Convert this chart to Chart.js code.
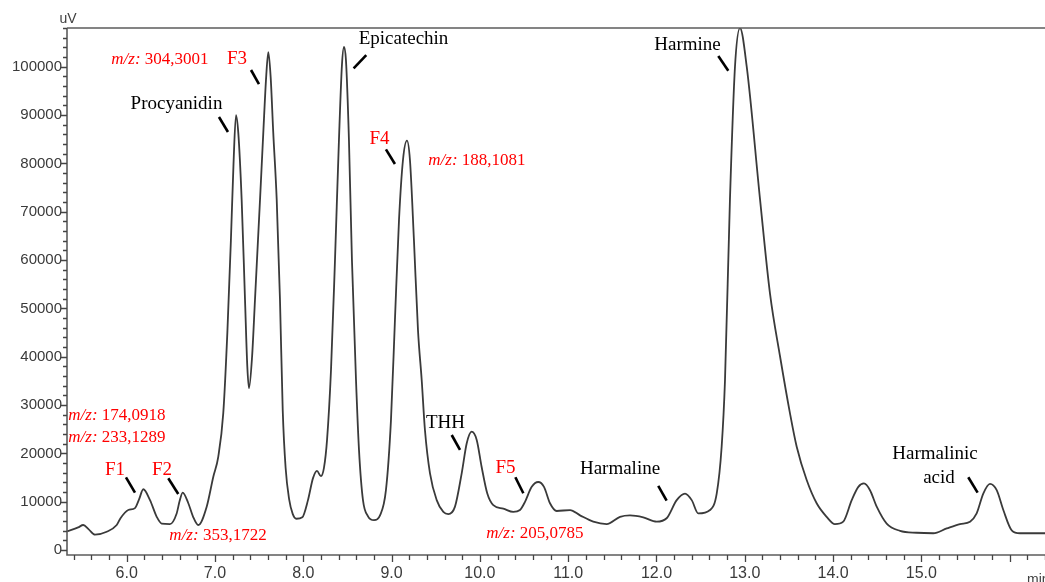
<!doctype html>
<html>
<head>
	<title>Chromatogram</title>
	<meta charset="UTF-8">
	<script src="https://cdn.jsdelivr.net/npm/chart.js@4/dist/chart.umd.min.js"></script>
	<style>
		body { margin: 0; background: #fff; }
		#holder { width: 1045px; height: 582px; }
	</style>
</head>
<body>
<div id="holder"><canvas id="chrom" width="1045" height="582"></canvas></div>
<script>
	// retention time (min)
	var retentionTime = [
		5.324, 5.45, 5.508, 5.57, 5.641, 5.774, 5.887, 5.93, 6.018, 6.094,
		6.14, 6.188, 6.264, 6.340, 6.396, 6.490, 6.566, 6.60, 6.634, 6.698,
		6.75, 6.811, 6.906, 6.981, 7.037, 7.094, 7.14, 7.18, 7.21, 7.238,
		7.264, 7.302, 7.340, 7.366, 7.385, 7.42, 7.453, 7.510, 7.547, 7.58,
		7.604, 7.63, 7.660, 7.699, 7.736, 7.767, 7.80, 7.84, 7.88, 7.921,
		7.989, 8.053, 8.110, 8.155, 8.200, 8.234, 8.269, 8.314, 8.359, 8.404,
		8.438, 8.461, 8.483, 8.517, 8.551, 8.597, 8.631, 8.676, 8.733, 8.801,
		8.869, 8.936, 8.993, 9.038, 9.084, 9.129, 9.174, 9.208, 9.253, 9.299,
		9.341, 9.378, 9.435, 9.511, 9.586, 9.642, 9.718, 9.794, 9.851, 9.907,
		9.964, 10.020, 10.084, 10.152, 10.265, 10.378, 10.454, 10.511, 10.587, 10.661,
		10.726, 10.794, 10.870, 11.021, 11.134, 11.284, 11.436, 11.587, 11.700, 11.850,
		12.002, 12.115, 12.229, 12.323, 12.399, 12.473, 12.606, 12.682, 12.738, 12.776,
		12.832, 12.889, 12.946, 13.022, 13.173, 13.286, 13.40, 13.512, 13.588, 13.701,
		13.814, 13.927, 14.021, 14.115, 14.211, 14.286, 14.350, 14.418, 14.494, 14.607,
		14.758, 14.947, 15.135, 15.287, 15.437, 15.551, 15.626, 15.701, 15.777, 15.853,
		15.928, 16.023, 16.117, 16.40
	];

	// detector signal (uV)
	var signalUV = [
		3900, 4700, 5200, 4300, 3200, 3800, 5200, 6600, 8300, 8700,
		10500, 12600, 10350, 6900, 5500, 5400, 7600, 10200, 11900, 9700,
		7000, 5200, 9000, 15200, 19300, 28400, 45000, 64000, 80000, 90000,
		86300, 72500, 51800, 38000, 33500, 40000, 51800, 72500, 86300, 98000,
		103000, 98000, 86300, 72500, 51800, 29000, 17000, 10500, 7500, 6500,
		6800, 10350, 14900, 16400, 15300, 17000, 22800, 37300, 60000, 84900,
		100400, 104100, 101400, 84900, 60000, 35200, 20700, 10350, 7000, 6200,
		7200, 12400, 26900, 47600, 68300, 80700, 84700, 80700, 64200, 45500,
		35200, 24800, 15900, 10350, 7900, 7450, 9000, 15900, 22100, 24500,
		22800, 17200, 11700, 9300, 8600, 7900, 8300, 10000, 13100, 14100,
		13100, 9700, 8100, 8300, 7200, 5900, 5400, 6900, 7200, 6800,
		5900, 6600, 10350, 11700, 10350, 7600, 8300, 11700, 21400, 35200,
		72500, 100000, 108000, 100000, 72500, 53000, 40000, 28300, 21400, 14500,
		9700, 6900, 5400, 5900, 10350, 13100, 13800, 12400, 9000, 5500,
		4000, 3600, 3500, 4500, 5400, 5900, 7600, 11700, 13700, 12400,
		8300, 4100, 3500, 3500
	];

	var xTicks = [6, 7, 8, 9, 10, 11, 12, 13, 14, 15, 16];
	var yTicks = [0, 10000, 20000, 30000, 40000, 50000, 60000, 70000, 80000, 90000, 100000];

	// peak labels in axis units (min, uV); lead = short pointer line
	var peakNotes = [
		{ text: 'm/z: 304,3001', t: 6.377, v: 101580, red: true, small: true },
		{ text: 'F3', t: 7.249, v: 101580, red: true, lead: [7.408, 99310, 7.498, 96410] },
		{ text: 'Procyanidin', t: 6.564, v: 92280, lead: [7.045, 89590, 7.147, 86490] },
		{ text: 'Epicatechin', t: 9.135, v: 105720, lead: [8.713, 102410, 8.570, 99660] },
		{ text: 'F4', t: 8.863, v: 85040, red: true, lead: [8.936, 82910, 9.038, 79870] },
		{ text: 'm/z: 188,1081', t: 9.967, v: 80690, red: true, small: true },
		{ text: 'Harmine', t: 12.351, v: 104480, lead: [12.700, 102190, 12.813, 99160] },
		{ text: 'm/z: 174,0918', t: 5.890, v: 27750, red: true, small: true },
		{ text: 'm/z: 233,1289', t: 5.890, v: 23270, red: true, small: true },
		{ text: 'F1', t: 5.868, v: 16590, red: true, lead: [5.992, 15070, 6.094, 11890] },
		{ text: 'F2', t: 6.400, v: 16590, red: true, lead: [6.471, 14870, 6.584, 11620] },
		{ text: 'm/z: 353,1722', t: 7.034, v: 2940, red: true, small: true },
		{ text: 'THH', t: 9.610, v: 26300, lead: [9.681, 23820, 9.775, 20720] },
		{ text: 'F5', t: 10.290, v: 16990, red: true, lead: [10.402, 15080, 10.492, 11770] },
		{ text: 'm/z: 205,0785', t: 10.624, v: 3350, red: true, small: true },
		{ text: 'Harmaline', t: 11.587, v: 16790, lead: [12.020, 13280, 12.115, 10240] },
		{ text: 'Harmalinic', t: 15.154, v: 19890 },
		{ text: 'acid', t: 15.199, v: 14930, lead: [15.531, 15080, 15.637, 11890] }
	];

	var points = retentionTime.map(function (t, i) {
		return { x: t, y: signalUV[i] };
	});

	function drawNote(ctx, note, px, py) {
		var size = note.small ? 17 : 19;
		ctx.fillStyle = note.red ? '#ff0000' : '#000000';
		ctx.textBaseline = 'middle';
		ctx.textAlign = 'left';
		var head = '', rest = note.text;
		if (note.text.indexOf('m/z:') === 0) {
			head = 'm/z:';
			rest = note.text.slice(4);
		}
		ctx.font = 'italic ' + size + 'px "Liberation Serif"';
		var w1 = head ? ctx.measureText(head).width : 0;
		ctx.font = size + 'px "Liberation Serif"';
		var w2 = ctx.measureText(rest).width;
		var x0 = px - (w1 + w2) / 2;
		if (head) {
			ctx.font = 'italic ' + size + 'px "Liberation Serif"';
			ctx.fillText(head, x0, py);
			ctx.font = size + 'px "Liberation Serif"';
		}
		ctx.fillText(rest, x0 + w1, py);
	}

	// axis frame, tick marks, unit labels and peak notes
	var decor = {
		id: 'decor',
		afterDraw: function (chart) {
			var ctx = chart.ctx, area = chart.chartArea;
			var xs = chart.scales.x, ys = chart.scales.y;
			ctx.save();

			ctx.strokeStyle = '#5c5c5c';
			ctx.lineWidth = 1.6;
			ctx.beginPath();
			ctx.moveTo(area.left, area.top);
			ctx.lineTo(area.right, area.top);
			ctx.moveTo(area.left, area.top);
			ctx.lineTo(area.left, area.bottom);
			ctx.lineTo(area.right, area.bottom);
			ctx.stroke();

			ctx.lineWidth = 1.3;
			ctx.strokeStyle = '#444';
			ctx.beginPath();
			for (var v = 0; v <= 108000; v += 2000) {
				var py = Math.round(ys.getPixelForValue(v)) + 0.5;
				var len = v % 10000 === 0 ? 6 : 4;
				ctx.moveTo(area.left - len, py);
				ctx.lineTo(area.left, py);
			}
			for (var i = 27; i <= 82; i++) {
				var px = Math.round(xs.getPixelForValue(i / 5)) + 0.5;
				var tl = i % 5 === 0 ? 7 : 5;
				ctx.moveTo(px, area.bottom);
				ctx.lineTo(px, area.bottom + tl);
			}
			ctx.stroke();

			ctx.fillStyle = '#404040';
			ctx.font = '14px "Liberation Sans"';
			ctx.textAlign = 'center';
			ctx.textBaseline = 'middle';
			ctx.fillText('uV', area.left + 1, 19);
			ctx.textAlign = 'left';
			ctx.fillText('min', 1027, 580);

			peakNotes.forEach(function (n) {
				if (n.lead) {
					ctx.strokeStyle = '#000';
					ctx.lineWidth = 2.6;
					ctx.beginPath();
					ctx.moveTo(xs.getPixelForValue(n.lead[0]), ys.getPixelForValue(n.lead[1]));
					ctx.lineTo(xs.getPixelForValue(n.lead[2]), ys.getPixelForValue(n.lead[3]));
					ctx.stroke();
				}
				drawNote(ctx, n, xs.getPixelForValue(n.t), ys.getPixelForValue(n.v));
			});
			ctx.restore();
		}
	};

	var config = {
		type: 'line',
		data: {
			datasets: [{
				data: points,
				borderColor: '#3a3a3a',
				borderWidth: 1.8,
				pointRadius: 0,
				fill: false,
				cubicInterpolationMode: 'monotone'
			}]
		},
		options: {
			responsive: false,
			animation: false,
			layout: { padding: { top: 28, right: 0, bottom: 0, left: 0 } },
			plugins: {
				legend: { display: false },
				tooltip: { enabled: false }
			},
			scales: {
				x: {
					type: 'linear',
					min: 5.324,
					max: 16.40,
					grid: { display: false, drawTicks: false },
					border: { display: false },
					afterBuildTicks: function (s) {
						s.ticks = xTicks.map(function (v) { return { value: v }; });
					},
					afterFit: function (s) { s.height = 27; },
					ticks: {
						autoSkip: false,
						maxRotation: 0,
						padding: 9,
						color: '#3a3a3a',
						font: { family: 'Liberation Sans', size: 16 },
						callback: function (v) { return v === 16 ? '' : v.toFixed(1); }
					}
				},
				y: {
					min: -1000,
					max: 108000,
					grid: { display: false, drawTicks: false },
					border: { display: false },
					afterBuildTicks: function (s) {
						s.ticks = yTicks.map(function (v) { return { value: v }; });
					},
					afterFit: function (s) { s.width = 67; },
					ticks: {
						padding: 5,
						color: '#3a3a3a',
						font: { family: 'Liberation Sans', size: 15 },
						callback: function (v) { return String(v); }
					}
				}
			}
		},
		plugins: [decor]
	};

	window.myChrom = new Chart(document.getElementById('chrom').getContext('2d'), config);
</script>
</body>
</html>
